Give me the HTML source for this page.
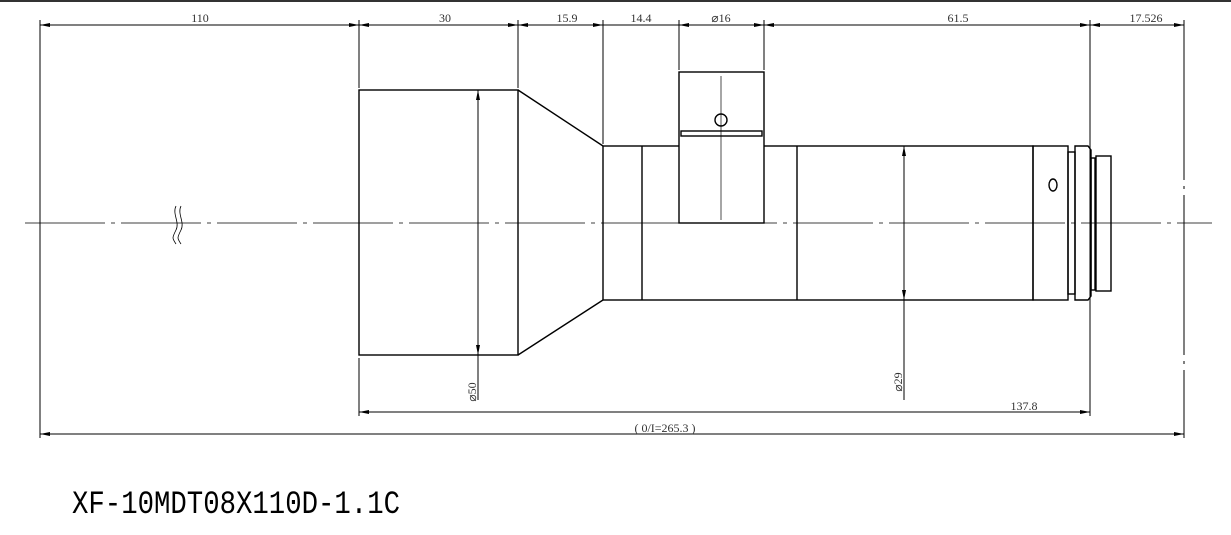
<!DOCTYPE html>
<html><head><style>body{margin:0;background:#fff}svg{display:block}</style></head><body>
<svg width="1231" height="535" viewBox="0 0 1231 535" xmlns="http://www.w3.org/2000/svg" font-family="Liberation Serif, serif">
<defs><marker id="a" viewBox="0 0 10 4" refX="10" refY="2" markerWidth="10" markerHeight="4" orient="auto-start-reverse" markerUnits="userSpaceOnUse"><path d="M0,0L10,2L0,4z" fill="#000"/></marker></defs>
<line x1="0" y1="1" x2="1231" y2="1" stroke="#333" stroke-width="2"/>
<g stroke="#000" stroke-width="1" fill="none">
<line x1="40" y1="20" x2="40" y2="438"/>
<line x1="359" y1="20" x2="359" y2="88"/><line x1="359" y1="358" x2="359" y2="416"/>
<line x1="518" y1="20" x2="518" y2="88"/>
<line x1="603" y1="20" x2="603" y2="144"/>
<line x1="679" y1="20" x2="679" y2="70"/><line x1="764" y1="20" x2="764" y2="70"/>
<line x1="1090" y1="20" x2="1090" y2="416"/>
<line x1="1184" y1="20" x2="1184" y2="438" stroke-dasharray="160,6,3,6"/>
<line x1="40" y1="25" x2="359" y2="25" marker-start="url(#a)" marker-end="url(#a)"/>
<line x1="359" y1="25" x2="518" y2="25" marker-start="url(#a)" marker-end="url(#a)"/>
<line x1="518" y1="25" x2="603" y2="25" marker-start="url(#a)" marker-end="url(#a)"/>
<line x1="603" y1="25" x2="679" y2="25"/>
<line x1="679" y1="25" x2="764" y2="25" marker-start="url(#a)" marker-end="url(#a)"/>
<line x1="764" y1="25" x2="1090" y2="25" marker-start="url(#a)" marker-end="url(#a)"/>
<line x1="1090" y1="25" x2="1184" y2="25" marker-start="url(#a)" marker-end="url(#a)"/>
<line x1="359" y1="412" x2="1090" y2="412" marker-start="url(#a)" marker-end="url(#a)"/>
<line x1="40" y1="434" x2="1184" y2="434" marker-start="url(#a)" marker-end="url(#a)"/>
<line x1="25" y1="223" x2="1212" y2="223" stroke-dasharray="80,6,4,6" stroke-width="0.8"/>
<g stroke-width="1.4">
<rect x="359" y="90" width="159" height="265"/>
<path d="M518,90L603,146M518,355L603,300"/>
<rect x="603" y="146" width="430" height="154"/>
<line x1="642" y1="146" x2="642" y2="300"/>
<line x1="797" y1="146" x2="797" y2="300"/>
<rect x="679" y="72" width="85" height="151" fill="#fff"/>
<rect x="681" y="131" width="81" height="5"/>
<circle cx="721" cy="120" r="6"/>
<rect x="1033" y="146" width="35" height="154"/>
<rect x="1068" y="152" width="7" height="142"/>
<path d="M1075,146H1088L1091,150V296L1088,300H1075Z"/>
<rect x="1091" y="158" width="4" height="132"/>
<rect x="1096" y="156" width="15" height="135"/>
<ellipse cx="1053" cy="185" rx="6" ry="4" transform="rotate(90 1053 185)"/>
</g>
<line x1="721" y1="76" x2="721" y2="220" stroke-width="0.7"/>
<line x1="478" y1="400" x2="478" y2="90" marker-end="url(#a)"/>
<line x1="478" y1="90" x2="478" y2="355" marker-end="url(#a)"/>
<line x1="904" y1="400" x2="904" y2="146" marker-end="url(#a)"/>
<line x1="904" y1="146" x2="904" y2="300" marker-end="url(#a)"/>
<path d="M176,206C172,214 180,222 176,230S172,238 176,244M181,206C177,214 185,222 181,230S177,238 181,244" stroke-width="0.8"/>
</g>
<g font-size="12" fill="#333" text-anchor="middle">
<text x="200" y="22">110</text>
<text x="445" y="22">30</text>
<text x="567" y="22">15.9</text>
<text x="641" y="22">14.4</text>
<text x="721" y="22">⌀16</text>
<text x="958" y="22">61.5</text>
<text x="1146" y="22">17.526</text>
<text x="1024" y="410">137.8</text>
<text x="665" y="432">( 0/I=265.3 )</text>
<text transform="translate(476,392) rotate(-90)">⌀50</text>
<text transform="translate(902,382) rotate(-90)">⌀29</text>
</g>
<text x="72" y="513" font-family="Liberation Mono, monospace" font-size="32" textLength="328" lengthAdjust="spacingAndGlyphs" fill="#000">XF-10MDT08X110D-1.1C</text>
</svg>
</body></html>
